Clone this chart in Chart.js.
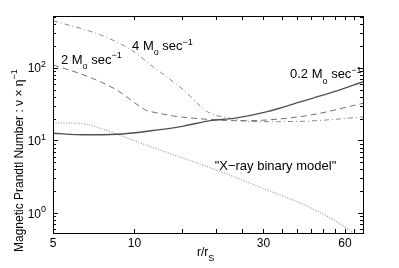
<!DOCTYPE html>
<html>
<head>
<meta charset="utf-8">
<script src="https://cdn.jsdelivr.net/npm/chart.js@4.4.1/dist/chart.umd.min.js"></script>
<style>
  html, body { margin: 0; padding: 0; background: #fff; }
  #wrap { width: 399px; height: 268px; }
</style>
</head>
<body>
<div id="wrap"><canvas id="chart" width="399" height="268"></canvas></div>
<script>
// data (r/rS vs magnetic Prandtl number)
const r02 = [5, 6.5, 8.6, 11.5, 15.2, 19.1, 23.3, 31, 41.3, 54.7, 70];
const pr02 = [12.6, 12.0, 12.2, 13.6, 15.8, 18.8, 20.2, 25.0, 34.3, 47.1, 64.7];

const r2 = [5, 6.5, 8.6, 10.5, 11.2, 11.5, 13.9, 18.6, 24.7, 31, 45, 70];
const pr2 = [110, 80, 49.7, 29.3, 25.5, 25.0, 21.8, 19.6, 18.7, 19.2, 22.5, 32.6];

const r4 = [5, 7.5, 9.65, 11.5, 15.2, 18.6, 22.7, 26.9, 33.8, 45, 70];
const pr4 = [449, 285, 181, 110, 49.7, 25.0, 20.2, 18.2, 18.2, 18.6, 21.1];

const rXray = [5, 6.5, 7.5, 8.6, 11.5, 15.2, 18.6, 23.3, 31, 41.3, 54.7, 63.9];
const prXray = [17.6, 16.9, 14.7, 12.3, 8.2, 5.68, 4.35, 3.17, 2.07, 1.36, 0.80, 0.55];

const xTickValues = [5, 10, 15, 20, 25, 30, 35, 40, 45, 50, 55, 60, 65, 70];
const xTickLabels = [5, 10, 30, 60];
const yTickLabels = [1, 10, 100];

// minor/major ticks on the log y axis
const yTickValues = [];
[0.1, 1, 10, 100].forEach(d => {
    for (let k = 1; k <= 9; k++) yTickValues.push(d * k);
});

const toPts = (xs, ys) => xs.map((x, i) => ({ x: x, y: ys[i] }));

// label anchors in data units (left, baseline)
const curveLabels = [
    { x: 9.8, y: 177, parts: [['4 M', 0], ['o', -1], [' sec', 0], ['\u22121', 1]] },
    { x: 5.35, y: 115, parts: [['2 M', 0], ['o', -1], [' sec', 0], ['\u22121', 1]] },
    { x: 37.6, y: 72, parts: [['0.2 M', 0], ['o', -1], [' sec', 0], ['\u22121', 1]] },
    { x: 19.8, y: 3.92, parts: [['"X\u2212ray binary model"', 0]] }
];

const FONT = '"Liberation Sans", Arial, sans-serif';

function drawRich(ctx, parts, x, y, size) {
    let cx = x;
    parts.forEach(p => {
        const small = p[1] !== 0;
        ctx.font = (small ? Math.round(size * 0.72) : size) + 'px ' + FONT;
        const dy = p[1] === 1 ? -size * 0.42 : (p[1] === -1 ? size * 0.42 : 0);
        ctx.fillText(p[0], cx, y + dy);
        cx += ctx.measureText(p[0]).width;
    });
    return cx - x;
}

function richWidth(ctx, parts, size) {
    let w = 0;
    parts.forEach(p => {
        ctx.font = (p[1] !== 0 ? Math.round(size * 0.72) : size) + 'px ' + FONT;
        w += ctx.measureText(p[0]).width;
    });
    return w;
}

const framePlugin = {
    id: 'frame',
    afterDraw(chart) {
        const ctx = chart.ctx;
        const a = chart.chartArea;
        const xs = chart.scales.x, ys = chart.scales.y;
        ctx.save();
        ctx.strokeStyle = '#000';
        ctx.lineWidth = 1;
        ctx.strokeRect(a.left + 0.5, a.top + 0.5, a.right - a.left, a.bottom - a.top);

        // inward ticks, all four sides
        ctx.beginPath();
        xTickValues.forEach(v => {
            const px = Math.round(xs.getPixelForValue(v)) + 0.5;
            if (px < a.left || px > a.right + 1) return;
            ctx.moveTo(px, a.bottom); ctx.lineTo(px, a.bottom - 4);
            ctx.moveTo(px, a.top); ctx.lineTo(px, a.top + 4);
        });
        yTickValues.forEach(v => {
            if (v < ys.min || v > ys.max) return;
            const major = yTickLabels.indexOf(v) >= 0;
            const len = major ? 5 : 3;
            const py = Math.round(ys.getPixelForValue(v)) + 0.5;
            ctx.moveTo(a.left, py); ctx.lineTo(a.left + len, py);
            ctx.moveTo(a.right, py); ctx.lineTo(a.right - len, py);
        });
        ctx.stroke();

        ctx.fillStyle = '#000';
        ctx.textBaseline = 'alphabetic';

        // x tick labels
        ctx.font = '12px ' + FONT;
        ctx.textAlign = 'center';
        xTickLabels.forEach(v => {
            ctx.fillText(String(v), xs.getPixelForValue(v), a.bottom + 14);
        });

        // y tick labels 10^n
        ctx.textAlign = 'left';
        yTickLabels.forEach(v => {
            const parts = [['10', 0], [String(Math.round(Math.log10(v))), 1]];
            const w = richWidth(ctx, parts, 12);
            drawRich(ctx, parts, a.left - 7 - w, ys.getPixelForValue(v) + 4.5, 12);
        });

        // x title r/r_S
        drawRich(ctx, [['r/r', 0], ['S', -1]], 197, 256, 12);

        // y title
        ctx.save();
        ctx.translate(22.5, 252);
        ctx.rotate(-Math.PI / 2);
        drawRich(ctx, [['Magnetic Prandtl Number : \u03bd \u00d7 \u03b7', 0], ['\u22121', 1]], 0, 0, 12);
        ctx.restore();

        // curve labels
        curveLabels.forEach(l => {
            drawRich(ctx, l.parts, xs.getPixelForValue(l.x), ys.getPixelForValue(l.y), 13);
        });
        ctx.restore();
    }
};

new Chart(document.getElementById('chart'), {
    type: 'line',
    data: {
        datasets: [
            { label: '0.2', data: toPts(r02, pr02), borderColor: '#505050', borderWidth: 1.4 },
            { label: '2', data: toPts(r2, pr2), borderColor: '#707070', borderWidth: 1, borderDash: [6, 4] },
            { label: '4', data: toPts(r4, pr4), borderColor: '#8a8a8a', borderWidth: 1, borderDash: [5, 3, 1, 3] },
            { label: 'xray', data: toPts(rXray, prXray), borderColor: '#a0a0a0', borderWidth: 1.3, borderDash: [1, 1.6] }
        ]
    },
    options: {
        responsive: false,
        animation: false,
        layout: { padding: { left: 53, right: 36, top: 16, bottom: 35 } },
        elements: {
            point: { radius: 0 },
            line: { cubicInterpolationMode: 'monotone', fill: false }
        },
        plugins: { legend: { display: false }, tooltip: { enabled: false } },
        scales: {
            x: { type: 'logarithmic', min: 5, max: 70, display: false },
            y: { type: 'logarithmic', min: 0.53, max: 521, display: false }
        }
    },
    plugins: [framePlugin]
});
</script>
</body>
</html>
